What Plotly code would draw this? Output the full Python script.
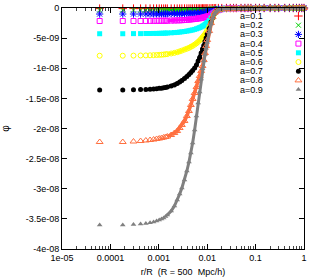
import plotly.graph_objects as go

# ---------------- data ----------------
r_over_R = [6e-5, 1.8e-4, 3.0e-4, 4.2e-4, 5.4e-4, 6.6e-4, 7.8e-4, 9.0e-4, 1.02e-3, 1.14e-3, 1.26e-3, 1.38e-3, 1.5e-3,
            1.8e-3, 2.1e-3, 2.4e-3, 2.7e-3, 3.0e-3, 3.4e-3, 3.8e-3, 4.2e-3, 4.6e-3, 5.0e-3, 5.5e-3, 6.0e-3, 6.5e-3,
            7.0e-3, 7.5e-3, 8.0e-3, 8.5e-3, 9.0e-3, 9.5e-3, 1.0e-2, 1.1e-2, 1.2e-2, 1.3e-2, 1.4e-2, 1.5e-2, 1.7e-2, 2.0e-2,
            2.5e-2, 3e-2, 3.5e-2, 4e-2, 5e-2, 6e-2, 7e-2, 8e-2, 0.1, 0.12, 0.15, 0.2, 0.25, 0.3, 0.4, 0.5, 0.6, 0.7,
            0.8, 0.9, 1.0]

# phi values in units of 1e-8
phi_a01 = [-0.010, -0.010, -0.010, -0.010, -0.010, -0.010, -0.010, -0.010, -0.010, -0.010, -0.010, -0.010, -0.010,
           -0.010, -0.010, -0.010, -0.010, -0.009, -0.009, -0.009, -0.009, -0.009, -0.009, -0.008, -0.008, -0.008, -0.008,
           -0.008, -0.007, -0.007, -0.007, -0.007, -0.006, -0.006, -0.005, -0.004, -0.004, -0.003, -0.002, -0.002,
           -0.001, -0.001, -0.001, -0.001, -0.001, 0, 0, 0, 0, 0, 0, 0, 0, 0, 0, 0, 0, 0, 0, 0, 0]
phi_a02 = [-0.035, -0.035, -0.035, -0.035, -0.035, -0.035, -0.034, -0.034, -0.034, -0.034, -0.034, -0.034, -0.034,
           -0.033, -0.033, -0.033, -0.032, -0.032, -0.032, -0.031, -0.031, -0.030, -0.030, -0.029, -0.029, -0.028, -0.027,
           -0.027, -0.026, -0.025, -0.024, -0.023, -0.022, -0.020, -0.017, -0.015, -0.013, -0.011, -0.008, -0.005,
           -0.003, -0.003, -0.002, -0.002, -0.002, -0.001, -0.001, -0.001, -0.001, -0.001, 0, 0, 0, 0, 0, 0, 0, 0, 0, 0, 0]
phi_a03 = [-0.100, -0.100, -0.100, -0.100, -0.099, -0.099, -0.099, -0.098, -0.098, -0.098, -0.097, -0.097, -0.097,
           -0.096, -0.095, -0.095, -0.094, -0.093, -0.091, -0.090, -0.088, -0.086, -0.085, -0.083, -0.081, -0.079, -0.076,
           -0.075, -0.072, -0.070, -0.067, -0.065, -0.061, -0.056, -0.048, -0.042, -0.035, -0.028, -0.020, -0.013,
           -0.007, -0.006, -0.005, -0.005, -0.004, -0.003, -0.003, -0.002, -0.002, -0.002, -0.001, -0.001, -0.001, 0, 0, 0, 0, 0, 0, 0, 0]
phi_a04 = [-0.216, -0.216, -0.216, -0.216, -0.215, -0.214, -0.214, -0.213, -0.212, -0.212, -0.212, -0.211, -0.211,
           -0.209, -0.208, -0.206, -0.204, -0.203, -0.199, -0.196, -0.193, -0.189, -0.186, -0.183, -0.179, -0.174, -0.171,
           -0.166, -0.161, -0.156, -0.151, -0.146, -0.139, -0.126, -0.108, -0.091, -0.075, -0.058, -0.037, -0.020,
           -0.010, -0.008, -0.007, -0.006, -0.005, -0.004, -0.004, -0.003, -0.003, -0.002, -0.002, -0.001, -0.001, -0.001, 0, 0, 0, 0, 0, 0, 0]
phi_a05 = [-0.427, -0.427, -0.425, -0.425, -0.423, -0.423, -0.422, -0.422, -0.420, -0.420, -0.418, -0.417, -0.415,
           -0.412, -0.408, -0.405, -0.400, -0.395, -0.390, -0.383, -0.377, -0.370, -0.364, -0.355, -0.345, -0.335, -0.325,
           -0.314, -0.302, -0.289, -0.274, -0.259, -0.241, -0.208, -0.166, -0.125, -0.086, -0.063, -0.033, -0.017,
           -0.011, -0.009, -0.008, -0.007, -0.006, -0.005, -0.004, -0.004, -0.003, -0.002, -0.002, -0.001, -0.001, -0.001, 0, 0, 0, 0, 0, 0, 0]
phi_a06 = [-0.792, -0.792, -0.790, -0.788, -0.787, -0.785, -0.783, -0.780, -0.778, -0.775, -0.772, -0.768, -0.765,
           -0.755, -0.745, -0.734, -0.720, -0.707, -0.690, -0.676, -0.661, -0.644, -0.629, -0.608, -0.586, -0.561, -0.538,
           -0.511, -0.486, -0.461, -0.435, -0.407, -0.373, -0.315, -0.241, -0.166, -0.100, -0.066, -0.033, -0.017,
           -0.012, -0.010, -0.009, -0.008, -0.006, -0.005, -0.005, -0.004, -0.003, -0.003, -0.002, -0.002, -0.001, -0.001, -0.001, 0, 0, 0, 0, 0, 0]
phi_a07 = [-1.361, -1.361, -1.358, -1.354, -1.351, -1.348, -1.344, -1.339, -1.334, -1.330, -1.325, -1.320, -1.313,
           -1.295, -1.278, -1.253, -1.228, -1.203, -1.170, -1.137, -1.104, -1.071, -1.037, -0.996, -0.946, -0.880, -0.822,
           -0.747, -0.681, -0.622, -0.556, -0.498, -0.432, -0.340, -0.232, -0.158, -0.091, -0.058, -0.033, -0.017,
           -0.012, -0.010, -0.009, -0.008, -0.007, -0.006, -0.005, -0.004, -0.003, -0.003, -0.002, -0.002, -0.001, -0.001, -0.001, 0, 0, 0, 0, 0, 0]
phi_a08 = [-2.224, -2.224, -2.216, -2.208, -2.199, -2.191, -2.183, -2.174, -2.166, -2.158, -2.149, -2.141, -2.133,
           -2.108, -2.075, -2.042, -1.992, -1.942, -1.876, -1.793, -1.710, -1.610, -1.510, -1.411, -1.311, -1.212, -1.129,
           -1.046, -0.963, -0.863, -0.747, -0.631, -0.531, -0.382, -0.249, -0.149, -0.083, -0.058, -0.033, -0.017,
           -0.012, -0.010, -0.009, -0.008, -0.007, -0.006, -0.005, -0.004, -0.004, -0.003, -0.002, -0.002, -0.001, -0.001, -0.001, 0, 0, 0, 0, 0, 0]
phi_a09 = [-3.600, -3.600, -3.593, -3.585, -3.577, -3.564, -3.552, -3.535, -3.519, -3.502, -3.486, -3.461, -3.436,
           -3.369, -3.286, -3.187, -3.087, -2.988, -2.855, -2.705, -2.556, -2.407, -2.241, -2.025, -1.793, -1.577, -1.394,
           -1.180, -1.010, -0.880, -0.770, -0.670, -0.570, -0.400, -0.266, -0.166, -0.100, -0.066, -0.033, -0.017,
           -0.012, -0.010, -0.009, -0.008, -0.007, -0.006, -0.005, -0.005, -0.004, -0.003, -0.003, -0.002, -0.002, -0.001, -0.001, -0.001, 0, 0, 0, 0, 0]
PHI_UNIT = 1e-8

series_names = ["a=0.1", "a=0.2", "a=0.3", "a=0.4", "a=0.5", "a=0.6", "a=0.7", "a=0.8", "a=0.9"]
series_values = [phi_a01, phi_a02, phi_a03, phi_a04, phi_a05, phi_a06, phi_a07, phi_a08, phi_a09]

x_tick_vals = [1e-5, 1e-4, 1e-3, 1e-2, 1e-1, 1]
x_tick_text = ["1e-05", "0.0001", "0.001", "0.01", "0.1", "1"]
y_tick_vals = [-4e-8, -3.5e-8, -3e-8, -2.5e-8, -2e-8, -1.5e-8, -1e-8, -5e-9, 0]
y_tick_text = ["-4e-08", "-3.5e-08", "-3e-08", "-2.5e-08", "-2e-08", "-1.5e-08", "-1e-08", "-5e-09", "0"]

# ---------------- styles ----------------
colors = ["#ff0000", "#00d000", "#0000ff", "#ff00ff", "#00ffff", "#ffff00", "#000000", "#ff7040", "#808080"]
symbols = ["cross-thin", "x-thin", "asterisk", "square-open", "square", "circle-open", "circle",
           "triangle-up-open", "triangle-up"]
sizes = [6, 5, 6, 5, 5, 5, 5, 6, 5]
line_w = [1, 1, 1, 1, 0, 1, 0, 1, 0]
band_w = [2, 2, 2.5, 3, 3, 3, 3.5, 3.5, 3]
DENSE_FROM = 12  # points from here on are packed so tightly they merge into a band

FONT = "Liberation Sans, Arial, Helvetica, sans-serif"

fig = go.Figure()
for name, vals, c, s, sz, lw, bw in zip(series_names, series_values, colors, symbols, sizes, line_w, band_w):
    yv = [v * PHI_UNIT for v in vals]
    fig.add_trace(go.Scatter(
        x=r_over_R[DENSE_FROM:], y=yv[DENSE_FROM:], mode="lines",
        line=dict(color=c, width=bw), cliponaxis=False, showlegend=False, hoverinfo="skip"))
    fig.add_trace(go.Scatter(
        x=r_over_R, y=yv, mode="markers", name=name,
        marker=dict(symbol=s, size=sz, color=c, line=dict(color=c, width=lw)),
        cliponaxis=False, showlegend=False))

# gnuplot-style key: text on the left, sample point on the right
key_top_px, key_step_px, plot_h_px = 8.0, 9.2, 241.0
key_x_text, key_x_mark = 0.728, 0.977
for i, (name, c, s, sz, lw) in enumerate(zip(series_names, colors, symbols, sizes, line_w)):
    yk = 1 - (key_top_px + key_step_px * i) / plot_h_px
    fig.add_trace(go.Scatter(
        x=[key_x_mark], y=[yk], xaxis="x2", yaxis="y2", mode="markers",
        marker=dict(symbol=s, size=sz, color=c, line=dict(color=c, width=lw)),
        showlegend=False, cliponaxis=False, hoverinfo="skip"))
    fig.add_annotation(x=key_x_text, y=yk, xref="paper", yref="paper", text=name,
                       showarrow=False, xanchor="left", yanchor="middle",
                       font=dict(family=FONT, size=9, color="black"))

axis_common = dict(showline=True, linecolor="black", linewidth=1, mirror="ticks",
                   ticks="inside", ticklen=5, tickcolor="black", showgrid=False, zeroline=False,
                   automargin=False,
                   tickfont=dict(family=FONT, size=9, color="black"))

minor_x = [m * d for d in [1e-5, 1e-4, 1e-3, 1e-2, 1e-1] for m in range(2, 10)]

fig.update_layout(
    width=312, height=277,
    margin=dict(l=62, r=8, t=8, b=28),
    paper_bgcolor="white", plot_bgcolor="white",
    showlegend=False,
    font=dict(family=FONT, size=9, color="black"),
    xaxis=dict(type="log", range=[-5, 0], tickmode="array", tickvals=x_tick_vals, ticktext=x_tick_text,
               minor=dict(tickmode="array", tickvals=minor_x, ticks="inside", ticklen=3, tickcolor="#444444"),
               title=dict(text="r/R \u00a0(R = 500 \u00a0Mpc/h)", font=dict(family=FONT, size=9)),
               **axis_common),
    yaxis=dict(range=[-4e-8, 0], tickmode="array", tickvals=y_tick_vals, ticktext=y_tick_text,
               title=dict(text="φ", font=dict(family=FONT, size=10)),
               **axis_common),
    xaxis2=dict(overlaying="x", anchor="y2", range=[0, 1], visible=False),
    yaxis2=dict(overlaying="y", anchor="x2", range=[0, 1], visible=False),
)

fig.write_html("out.html", config={"displayModeBar": False},
               post_script="document.body.style.margin='0';document.body.style.padding='0';")
